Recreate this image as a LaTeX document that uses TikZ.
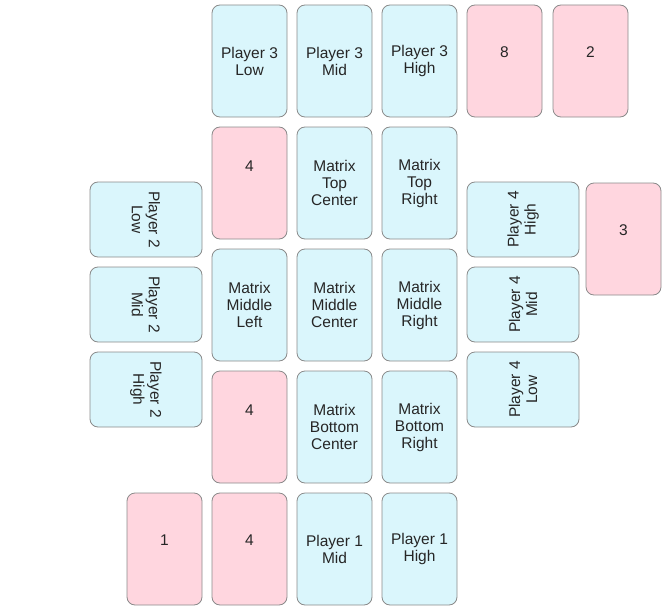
\documentclass[tikz,border=0pt]{standalone}
\usepackage{fontspec}
\setmainfont{Liberation Sans}
\definecolor{cardblue}{HTML}{DAF6FC}
\definecolor{cardpink}{HTML}{FFD6DF}
\definecolor{cardline}{HTML}{8A8A8A}
\tikzset{
  card/.style={draw=cardline, line width=0.8pt, rounded corners=8pt,
    minimum width=75pt, minimum height=112pt, inner sep=0pt, align=center,
    font=\fontsize{15.5}{17}\selectfont, text=black!85},
  bluecard/.style={card, fill=cardblue},
  pinkcard/.style={card, fill=cardpink},
}
\begin{document}
\begin{tikzpicture}[x=1pt,y=-1pt]
\useasboundingbox (0,0) rectangle (669,610);
% row 1
\node[bluecard] (p3low)  at (249.5,61) {Player 3\\Low};
\node[bluecard] (p3mid)  at (334.5,61) {Player 3\\Mid};
\node[bluecard] (p3high) at (419.5,61) {Player 3\\High};
\node[pinkcard] (c8)     at (504.5,61) {8\\\mbox{}};
\node[pinkcard] (c2)     at (590.5,61) {2\\\mbox{}};
% row 2
\node[pinkcard] (c4a)    at (249.5,183) {4\\\mbox{}\\\mbox{}};
\node[bluecard] (mtc)    at (334.5,183) {Matrix\\Top\\Center};
\node[bluecard] (mtr)    at (419.5,183) {Matrix\\Top\\Right};
% row 3
\node[bluecard] (mml)    at (249.5,305) {Matrix\\Middle\\Left};
\node[bluecard] (mmc)    at (334.5,305) {Matrix\\Middle\\Center};
\node[bluecard] (mmr)    at (419.5,305) {Matrix\\Middle\\Right};
% row 4
\node[pinkcard] (c4b)    at (249.5,427) {4\\\mbox{}\\\mbox{}};
\node[bluecard] (mbc)    at (334.5,427) {Matrix\\Bottom\\Center};
\node[bluecard] (mbr)    at (419.5,427) {Matrix\\Bottom\\Right};
% row 5
\node[pinkcard] (c1)     at (164.5,549) {1\\\mbox{}};
\node[pinkcard] (c4c)    at (249.5,549) {4\\\mbox{}};
\node[bluecard] (p1mid)  at (334.5,549) {Player 1\\Mid};
\node[bluecard] (p1high) at (419.5,549) {Player 1\\High};
% player 2 (left, rotated)
\node[bluecard, rotate=-90] (p2low)  at (146,219.5) {Player 2\\Low};
\node[bluecard, rotate=-90] (p2mid)  at (146,304.5) {Player 2\\Mid};
\node[bluecard, rotate=-90] (p2high) at (146,389.5) {Player 2\\High};
% player 4 (right, rotated)
\node[bluecard, rotate=90] (p4high) at (523,219.5) {Player 4\\High};
\node[bluecard, rotate=90] (p4mid)  at (523,304.5) {Player 4\\Mid};
\node[bluecard, rotate=90] (p4low)  at (523,389.5) {Player 4\\Low};
\node[pinkcard] (c3) at (623.5,239) {3\\\mbox{}};
\end{tikzpicture}
\end{document}
